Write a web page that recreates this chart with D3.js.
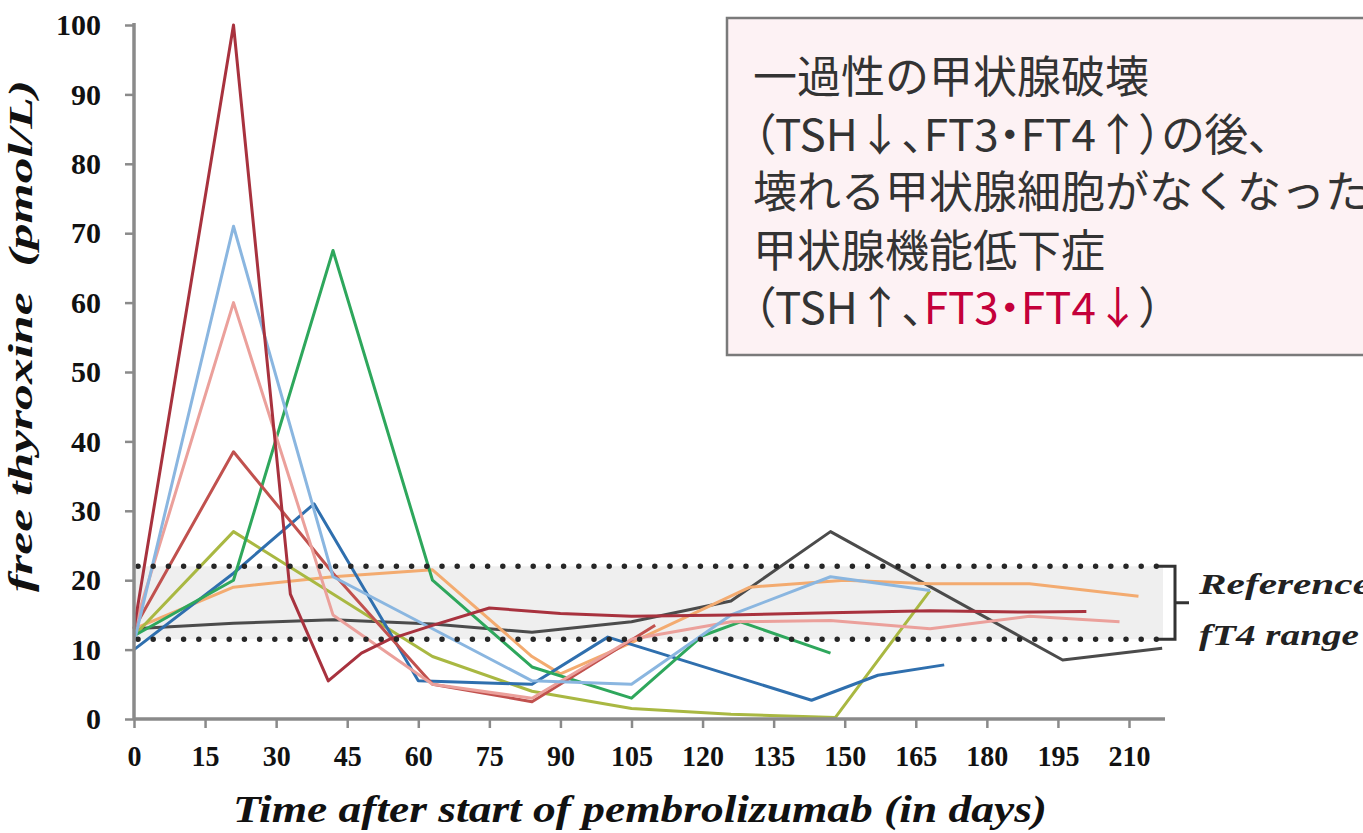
<!DOCTYPE html>
<html>
<head>
<meta charset="utf-8">
<script src="https://cdn.jsdelivr.net/npm/d3@7"></script>
<style>
  html, body { margin: 0; padding: 0; background: #fff; }
  svg { display: block; }
  .tick text { font-family: "Liberation Serif", "DejaVu Serif", serif; font-weight: bold; font-size: 30px; fill: #111; }
  .note { font-family: "Noto Sans CJK JP", sans-serif; font-size: 44px; fill: #333; }
  .note.palt { font-feature-settings: "palt"; }
</style>
</head>
<body>
<div id="chart"></div>
<script>
// x: days after start, y: free T4 (pmol/L), one pair of arrays per patient
const xTicks = [0, 15, 30, 45, 60, 75, 90, 105, 120, 135, 150, 165, 180, 195, 210];
const yTicks = [0, 10, 20, 30, 40, 50, 60, 70, 80, 90, 100];
const refRange = [11.5, 22];

const daysDarkRed = [0, 21, 33, 41, 48, 54, 63, 75, 90, 105, 126, 147, 168, 189, 201];
const ft4DarkRed  = [13, 100, 18, 5.5, 9.5, 11.5, 13.5, 16, 15.2, 14.8, 15, 15.3, 15.6, 15.4, 15.5];

const daysLightBlue = [0, 21, 42, 63, 84, 105, 126, 147, 168];
const ft4LightBlue  = [11, 71, 20.5, 13, 5.5, 5, 15, 20.5, 18.5];

const daysSalmon = [0, 21, 42, 63, 84, 105, 126, 147, 168, 189, 208];
const ft4Salmon  = [13, 60, 15, 5, 3, 11.5, 14, 14.2, 13, 14.8, 14];

const daysBrown = [0, 21, 42, 63, 84, 110];
const ft4Brown  = [13, 38.5, 21, 5, 2.5, 13.5];

const daysGreen = [0, 21, 42, 63, 84, 105, 120, 128, 147];
const ft4Green  = [12, 20, 67.5, 20, 7.5, 3, 12, 14, 9.5];

const daysBlue = [0, 21, 38, 60, 84, 100, 143, 157, 171];
const ft4Blue  = [10, 21, 31, 5.5, 5, 11.8, 2.7, 6.3, 7.8];

const daysOlive = [0, 21, 42, 63, 84, 105, 126, 148, 168];
const ft4Olive  = [12, 27, 18, 9, 4, 1.5, 0.7, 0.2, 18.5];

const daysOrange = [0, 21, 42, 63, 84, 90, 105, 130, 150, 168, 189, 212];
const ft4Orange  = [13, 19, 20.5, 21.5, 9, 6.5, 11, 19, 20, 19.5, 19.5, 17.7];

const daysGray = [0, 21, 42, 63, 84, 105, 126, 147, 196, 217];
const ft4Gray  = [13, 13.8, 14.3, 13.7, 12.5, 14, 17, 27, 8.5, 10.2];

const noteLines = [
  "一過性の甲状腺破壊",
  "（TSH↓、FT3・FT4↑）の後、",
  "壊れる甲状腺細胞がなくなった",
  "甲状腺機能低下症"
];

const series = [
  { days: daysGray, vals: ft4Gray, color: "#4b4b4b" },
  { days: daysOrange, vals: ft4Orange, color: "#f3ab70" },
  { days: daysOlive, vals: ft4Olive, color: "#a9b842" },
  { days: daysBlue, vals: ft4Blue, color: "#2f6fae" },
  { days: daysGreen, vals: ft4Green, color: "#2ea75c" },
  { days: daysBrown, vals: ft4Brown, color: "#c1514e" },
  { days: daysSalmon, vals: ft4Salmon, color: "#eba09b" },
  { days: daysLightBlue, vals: ft4LightBlue, color: "#8ab6e0" },
  { days: daysDarkRed, vals: ft4DarkRed, color: "#a8323e" }
];

const width = 1363, height = 833;

const svg = d3.select("#chart").append("svg")
    .attr("width", width)
    .attr("height", height);

const x = d3.scaleLinear().domain([0, 210]).range([134, 1129]);
const y = d3.scaleLinear().domain([0, 100]).range([719, 25]);
const bandEnd = 1163;

// reference band
svg.append("rect")
    .attr("x", x(0))
    .attr("y", y(refRange[1]))
    .attr("width", bandEnd - x(0))
    .attr("height", y(refRange[0]) - y(refRange[1]))
    .attr("fill", "#efefef");

// patients
const line = d3.line().x(d => x(d[0])).y(d => y(d[1]));
svg.append("g")
    .selectAll("path")
    .data(series)
    .join("path")
    .attr("d", s => line(s.days.map((d, i) => [d, s.vals[i]])))
    .attr("fill", "none")
    .attr("stroke", s => s.color)
    .attr("stroke-width", 3)
    .attr("stroke-linejoin", "round");

// dotted limits
svg.append("g")
    .selectAll("line")
    .data(refRange)
    .join("line")
    .attr("x1", x(0) + 4)
    .attr("x2", bandEnd)
    .attr("y1", d => y(d))
    .attr("y2", d => y(d))
    .attr("stroke", "#262626")
    .attr("stroke-width", 5.5)
    .attr("stroke-linecap", "round")
    .attr("stroke-dasharray", "0 15.2");

// bracket + label
const yTop = y(refRange[1]), yBot = y(refRange[0]), yMid = (yTop + yBot) / 2;
svg.append("path")
    .attr("d", `M${bandEnd - 4},${yTop} H1175 V${yBot} H${bandEnd - 4} M1175,${yMid} H1189`)
    .attr("fill", "none")
    .attr("stroke", "#333")
    .attr("stroke-width", 3);

const refLabel = svg.append("text")
    .attr("font-family", "Liberation Serif, serif")
    .attr("font-style", "italic")
    .attr("font-weight", "bold")
    .attr("font-size", 30)
    .attr("fill", "#222");
refLabel.append("tspan").attr("x", 1199).attr("y", yMid - 9)
    .attr("textLength", 172).attr("lengthAdjust", "spacingAndGlyphs").text("Reference");
refLabel.append("tspan").attr("x", 1199).attr("y", yMid + 42)
    .attr("textLength", 160).attr("lengthAdjust", "spacingAndGlyphs").text("fT4 range");

// axes
const gx = svg.append("g")
    .attr("transform", `translate(0,${y(0)})`)
    .call(d3.axisBottom(x).tickValues(xTicks).tickSize(9).tickPadding(11).tickFormat(d3.format("d")));
gx.select(".domain").remove();
gx.selectAll(".tick line").attr("stroke", "#8a8a8a").attr("stroke-width", 2.5);
gx.selectAll(".tick text").attr("dy", "0.9em")
    .attr("textLength", d => String(d).length * 14)
    .attr("lengthAdjust", "spacingAndGlyphs");

const gy = svg.append("g")
    .attr("transform", `translate(${x(0)},0)`)
    .call(d3.axisLeft(y).tickValues(yTicks).tickSize(9).tickPadding(24).tickFormat(d3.format("d")));
gy.select(".domain").remove();
gy.selectAll(".tick line").attr("stroke", "#8a8a8a").attr("stroke-width", 2.5);

svg.append("line")
    .attr("x1", x(0)).attr("x2", 1165)
    .attr("y1", y(0)).attr("y2", y(0))
    .attr("stroke", "#8a8a8a").attr("stroke-width", 3.5);
svg.append("line")
    .attr("x1", x(0)).attr("x2", x(0))
    .attr("y1", y(100) - 2).attr("y2", y(0) + 1)
    .attr("stroke", "#8a8a8a").attr("stroke-width", 3.5);

// axis titles
svg.append("text")
    .attr("x", 640)
    .attr("y", 822)
    .attr("text-anchor", "middle")
    .attr("font-family", "Liberation Serif, serif")
    .attr("font-style", "italic")
    .attr("font-weight", "bold")
    .attr("font-size", 38)
    .attr("textLength", 814)
    .attr("lengthAdjust", "spacingAndGlyphs")
    .attr("fill", "#111")
    .text("Time after start of pembrolizumab (in days)");

svg.append("text")
    .attr("transform", "translate(32,336) rotate(-90)")
    .attr("text-anchor", "middle")
    .attr("font-family", "Liberation Serif, serif")
    .attr("font-style", "italic")
    .attr("font-weight", "bold")
    .attr("font-size", 34)
    .attr("textLength", 512)
    .attr("lengthAdjust", "spacingAndGlyphs")
    .attr("fill", "#111")
    .style("white-space", "pre")
    .text("free thyroxine  (pmol/L)");

// annotation box
svg.append("rect")
    .attr("x", 727).attr("y", 18)
    .attr("width", 700).attr("height", 337)
    .attr("fill", "#fdf2f4")
    .attr("stroke", "#7a7a7a")
    .attr("stroke-width", 2.5);

const noteBase = [93, 151, 208, 267, 324];
svg.append("g")
    .selectAll("text")
    .data(noteLines)
    .join("text")
    .attr("class", (d, i) => i === 1 ? "note palt" : "note")
    .attr("x", 753)
    .attr("y", (d, i) => noteBase[i])
    .text(d => d);

const last = svg.append("text")
    .attr("class", "note palt")
    .attr("x", 753)
    .attr("y", noteBase[4]);
last.append("tspan").text("（TSH↑、");
last.append("tspan").attr("fill", "#c4003a").text("FT3・FT4↓");
last.append("tspan").text("）");
</script>
</body>
</html>
